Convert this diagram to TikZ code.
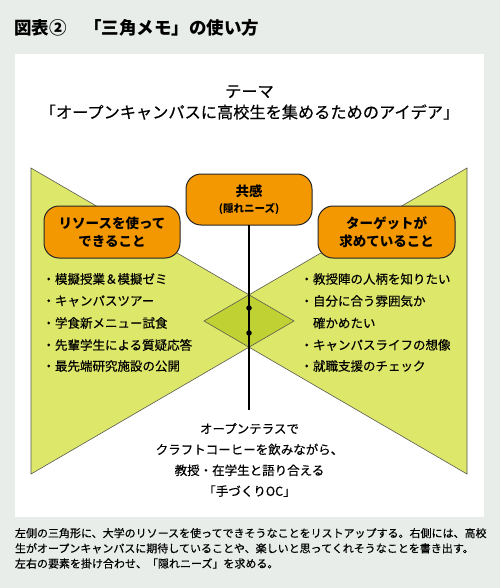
\documentclass[tikz,border=0pt]{standalone}
\usepackage{fontspec}
\setmainfont{Noto Sans CJK JP}
\newfontfamily\medfont{Noto Sans CJK JP}[FakeBold=0.35]
\definecolor{bggrey}{HTML}{E8EDEA}
\definecolor{trigreen}{HTML}{DDE76A}
\definecolor{ovgreen}{HTML}{BFD133}
\definecolor{orangebox}{HTML}{F39800}
\definecolor{edgegrey}{HTML}{5A5A50}
\begin{document}
\begin{tikzpicture}[x=1pt,y=-1pt,
  every node/.style={inner sep=0pt, outer sep=0pt},
  obox/.style={draw=black!85, line width=1pt, fill=orangebox, rounded corners=15pt, align=center, font=\bfseries\fontsize{13.5}{18}\selectfont},
  listitem/.style={anchor=west, font=\medfont\fontsize{12.5}{15}\selectfont},
  tri/.style={fill=trigreen},
  triedge/.style={draw=edgegrey, line width=0.6pt},
  dotnode/.style={circle, fill=black, minimum size=5.5pt},
]
\fill[bggrey] (0,0) rectangle (500,588);
\useasboundingbox (0,0) rectangle (500,588);
\fill[white] (15,54) rectangle (484,517);

% title
\node[anchor=west, font=\bfseries\fontsize{17.5}{20}\selectfont] (title) at (14,28) {図表②　「三角メモ」の使い方};

% theme
\node[align=center, font=\medfont\fontsize{16.2}{21}\selectfont] (theme) at (249.5,102.5) {テーマ\\「オープンキャンパスに高校生を集めるためのアイデア」};

% triangles
\coordinate (L1) at (31,168);
\coordinate (L2) at (31,474);
\coordinate (LA) at (294,321);
\coordinate (R1) at (467,168);
\coordinate (R2) at (467,474);
\coordinate (RA) at (204,321);
\fill[tri] (L1) -- (LA) -- (L2) -- cycle;
\fill[tri] (R1) -- (RA) -- (R2) -- cycle;
\begin{scope}
  \clip (L1) -- (LA) -- (L2) -- cycle;
  \fill[ovgreen] (R1) -- (RA) -- (R2) -- cycle;
\end{scope}
\draw[triedge] (L1) -- (LA) -- (L2) -- cycle;
\draw[triedge] (R1) -- (RA) -- (R2) -- cycle;

% boxes
\node[obox, minimum width=126pt, minimum height=51pt] (kyokan) at (249,199.5)
  {共感\\[-2pt]{\fontsize{10.5}{13}\selectfont (隠れニーズ)}};
\node[obox, minimum width=136pt, minimum height=52pt] (left) at (112,232)
  {リソースを使って\\できること};
\node[obox, minimum width=137pt, minimum height=52pt] (right) at (386.5,232)
  {ターゲットが\\求めていること};

% connector
\coordinate (lineend) at (249,410);
\draw[line width=1.8pt] (kyokan.south) -- (lineend);
\node[dotnode] (d1) at (249,308) {};
\node[dotnode] (d2) at (249,333) {};

% left list
\node[listitem] (l1) at (42.5,279) {・模擬授業＆模擬ゼミ};
\node[listitem] (l2) at (42.5,301) {・キャンパスツアー};
\node[listitem] (l3) at (42.5,323) {・学食新メニュー試食};
\node[listitem] (l4) at (42.5,345) {・先輩学生による質疑応答};
\node[listitem] (l5) at (42.5,366) {・最先端研究施設の公開};

% right list
\node[listitem] (r1) at (300.5,279) {・教授陣の人柄を知りたい};
\node[listitem] (r2) at (300.5,301) {・自分に合う雰囲気か};
\node[listitem] (r2b) at (313,323) {確かめたい};
\node[listitem] (r3) at (300.5,345) {・キャンパスライフの想像};
\node[listitem] (r4) at (300.5,366) {・就職支援のチェック};

% bottom idea
\node[align=center, font=\medfont\fontsize{12.5}{20.8}\selectfont] (idea) at (249.5,460)
  {オープンテラスで\\クラフトコーヒーを飲みながら、\\教授・在学生と語り合える\\「手づくりOC」};

% caption
\node[anchor=north west, align=left, font=\medfont\fontsize{11}{15.2}\selectfont] (caption) at (15,528)
  {左側の三角形に、大学のリソースを使ってできそうなことをリストアップする。右側には、高校\\生がオープンキャンパスに期待していることや、楽しいと思ってくれそうなことを書き出す。\\左右の要素を掛け合わせ、「隠れニーズ」を求める。};
\end{tikzpicture}
\end{document}
